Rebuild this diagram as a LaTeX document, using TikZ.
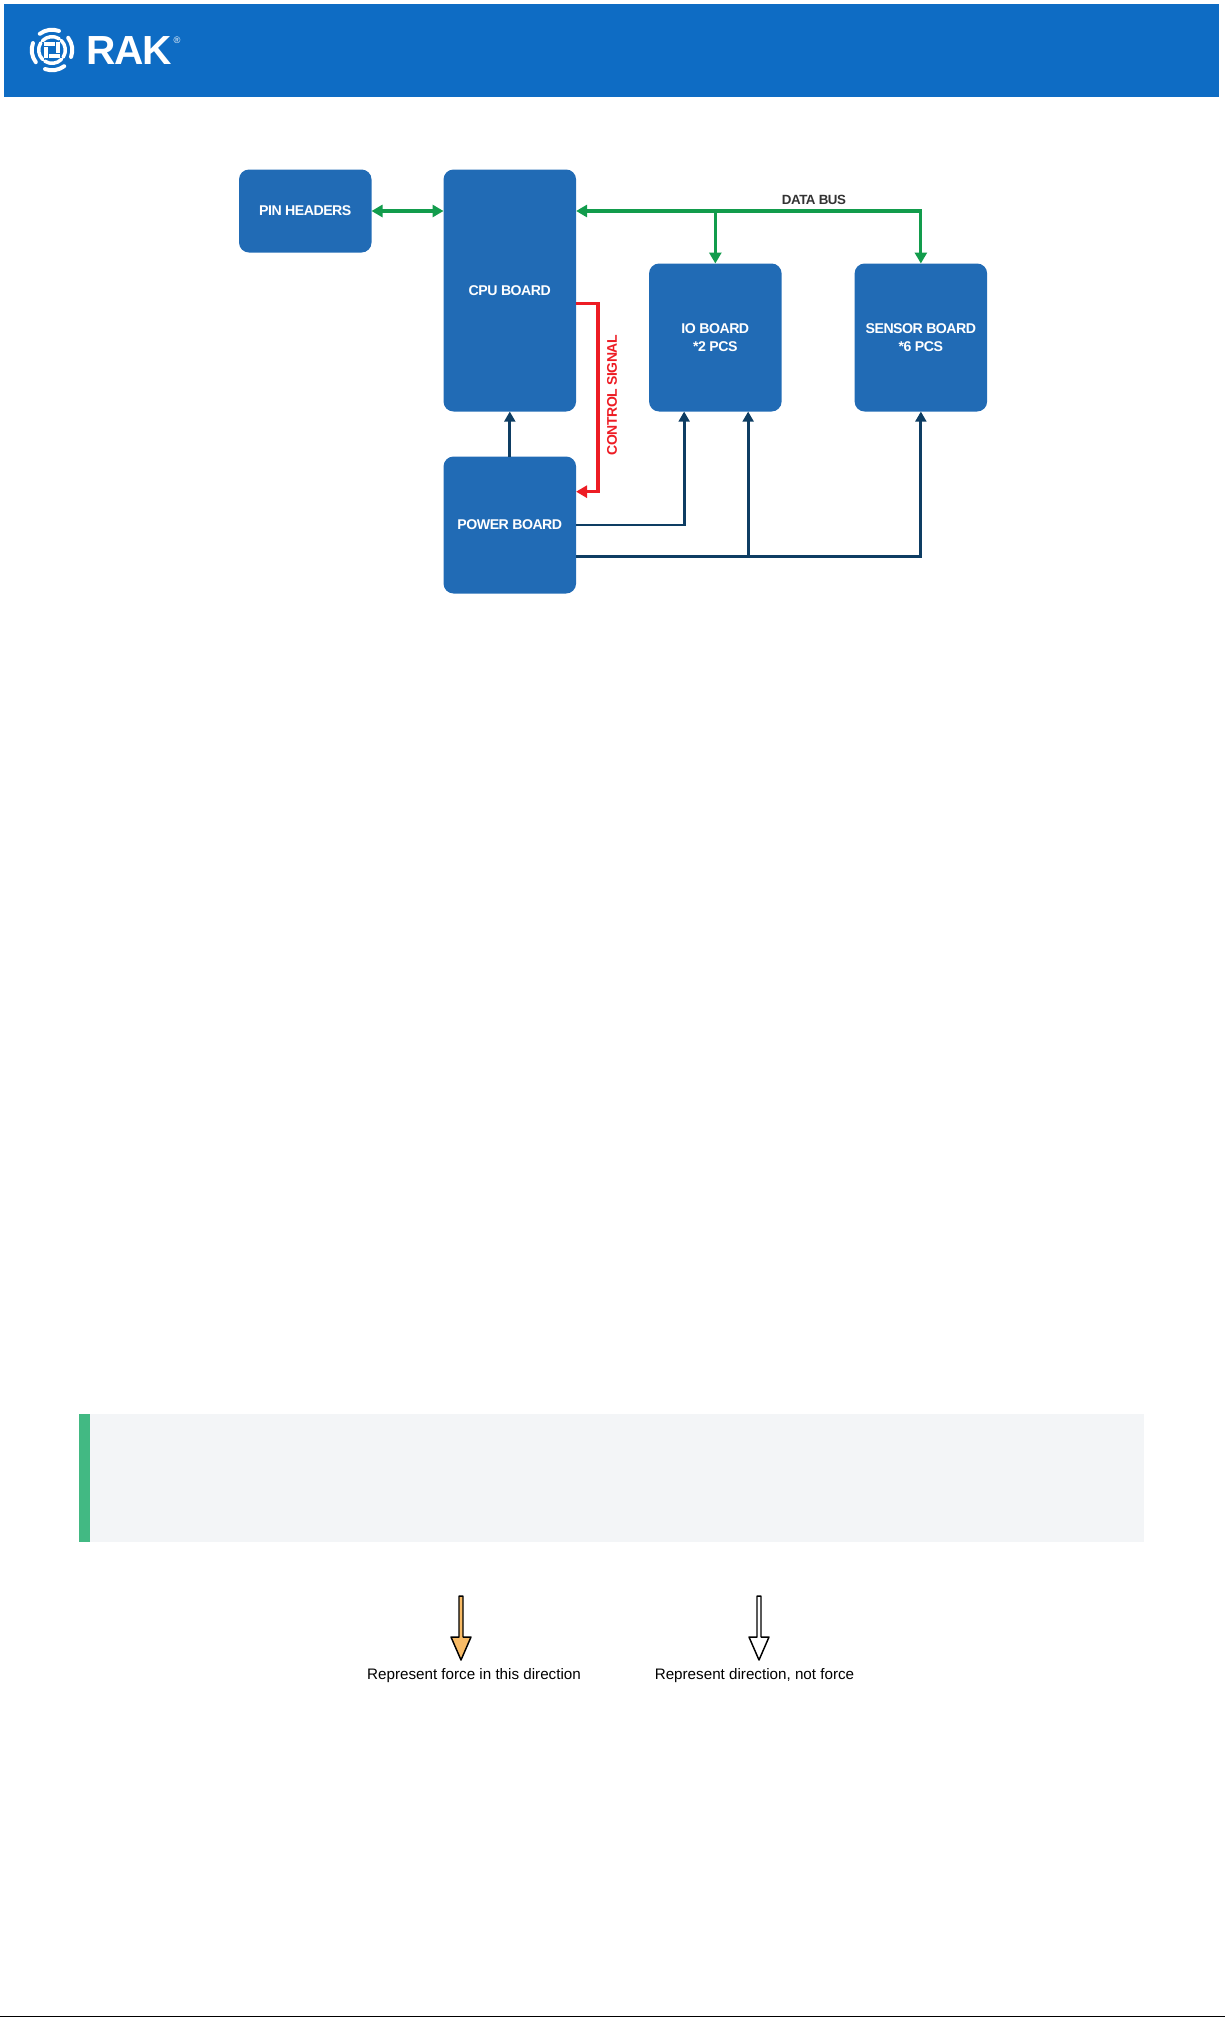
\documentclass[tikz,border=0pt]{standalone}
\usepackage{fontspec}
\setmainfont{Liberation Sans}
\newfontfamily\boardfont{Liberation Sans}[LetterSpace=-3.5]
\usetikzlibrary{arrows.meta,positioning}
\definecolor{headerblue}{HTML}{0E6CC4}
\definecolor{boardblue}{HTML}{216BB5}
\definecolor{busgreen}{HTML}{129C4C}
\definecolor{powernavy}{HTML}{0E3D63}
\definecolor{signalred}{HTML}{ED1C24}
\definecolor{forceorange}{HTML}{F8BB66}
\definecolor{tipgreen}{HTML}{42B983}
\definecolor{tipgrey}{HTML}{F3F5F7}
\tikzstyle{board} = [rectangle, rounded corners=7.5pt, fill=boardblue, text=white, inner sep=0pt, outer sep=0pt, minimum width=99.4pt, align=center, font=\boardfont\fontsize{10.6pt}{13.5pt}\selectfont\bfseries]
\tikzstyle{databus} = [draw=busgreen, line width=2.4pt, >={Triangle[length=8.25pt,width=9pt]}]
\tikzstyle{powerline} = [draw=powernavy, line width=2.2pt, >={Triangle[length=7.5pt,width=8pt]}]
\tikzstyle{signal} = [draw=signalred, line width=2.4pt, >={Triangle[length=8.25pt,width=9pt]}]
\tikzstyle{caption} = [inner sep=0pt, font=\fontsize{11.4pt}{13pt}\selectfont]
\tikzstyle{outlinearrow} = [draw=black, line width=1.1pt, line join=round]
\tikzset{
  logoblade/.pic={
    \draw[white, line width=3pt, line cap=round] (127:15.2pt) arc[start angle=127, end angle=70, radius=15.2pt];
    \draw[white, line width=2.6pt, line cap=round] (136:10pt) arc[start angle=136, end angle=57, radius=10pt];
    \fill[white] (-6pt,6pt) rectangle (2.2pt,2.9pt);
  }
}
\begin{document}
\begin{tikzpicture}[x=0.75pt,y=-0.75pt,node distance=33.75pt and 54.75pt]
    \useasboundingbox (0,0) rectangle (1225,2017);

    % header
    \fill[headerblue] (4,4) rectangle (1219,97);
    \pic[rotate=0] at (52,50) {logoblade};
    \pic[rotate=90] at (52,50) {logoblade};
    \pic[rotate=180] at (52,50) {logoblade};
    \pic[rotate=270] at (52,50) {logoblade};
    \node [anchor=west, inner sep=0pt, text=white, font=\boardfont\fontsize{30.5pt}{30pt}\selectfont\bfseries] (rak) at (86,51) {RAK};
    \node [inner sep=0pt, text=white, font=\fontsize{7pt}{7pt}\selectfont] (regmark) at (177,40) {®};

    % boards
    \node [board, minimum height=62.25pt, anchor=north west] (pin) at (239,169.5) {PIN HEADERS};
    \node [board, minimum height=181.5pt, right=54pt of pin.north east, anchor=north west] (cpu) {CPU BOARD};
    \node [board, minimum height=102.75pt, below=of cpu] (powerboard) {POWER BOARD};
    \node [board, minimum height=111pt, right=of cpu.south east, anchor=south west] (io) {IO BOARD\\*2 PCS};
    \node [board, minimum height=111pt, right=of io] (sensor) {SENSOR BOARD\\*6 PCS};

    % data bus
    \draw[databus,<->] (pin.east) -- (pin.east -| cpu.west);
    \draw[databus,<->] (pin.east -| cpu.east) -| node[pos=0.345, above=3.5pt, inner sep=0pt, text=black!80, font=\boardfont\fontsize{10pt}{12pt}\selectfont\bfseries] (buslabel) {DATA BUS} (sensor.north);
    \draw[databus,->] (pin.east -| io.north) -- (io.north);

    % control signal
    \draw[signal,->] ([yshift=-9.75pt]cpu.east) -- ++(22,0) |- ([yshift=25pt]powerboard.east);
    \node [rotate=90, inner sep=0pt, text=signalred, font=\boardfont\fontsize{10.5pt}{12pt}\selectfont\bfseries] (signallabel) at (612,395) {CONTROL SIGNAL};

    % power
    \coordinate [below=23.6pt of powerboard.east] (powerbus);
    \coordinate (iopower) at ([xshift=-23.4pt]io.south);
    \coordinate (iobus) at ([xshift=24.6pt]io.south);
    \draw[powerline,->] (powerboard) -- (cpu);
    \draw[powerline,->] (powerboard.east) -| (iopower);
    \draw[powerline,->] (powerbus) -| (sensor.south);
    \draw[powerline,->] (powerbus -| iobus) -- (iobus);

    % note
    \fill[tipgrey] (90,1414) rectangle (1144,1542);
    \fill[tipgreen] (79,1414) rectangle (90,1542);

    % legend
    \draw[outlinearrow, fill=forceorange] (459,1596) -- (463,1596) -- (463,1637) -- (471,1637) -- (461,1660) -- (451,1637) -- (459,1637) -- cycle;
    \draw[outlinearrow, fill=white] (757,1596) -- (761,1596) -- (761,1637) -- (769,1637) -- (759,1660) -- (749,1637) -- (757,1637) -- cycle;
    \node [caption] (forcetext) at (474,1676) {Represent force in this direction};
    \node [caption] (directiontext) at (754.5,1676) {Represent direction, not force};

    % page edge
    \fill[black] (0,2015.6) rectangle (1225,2017);
\end{tikzpicture}
\end{document}
